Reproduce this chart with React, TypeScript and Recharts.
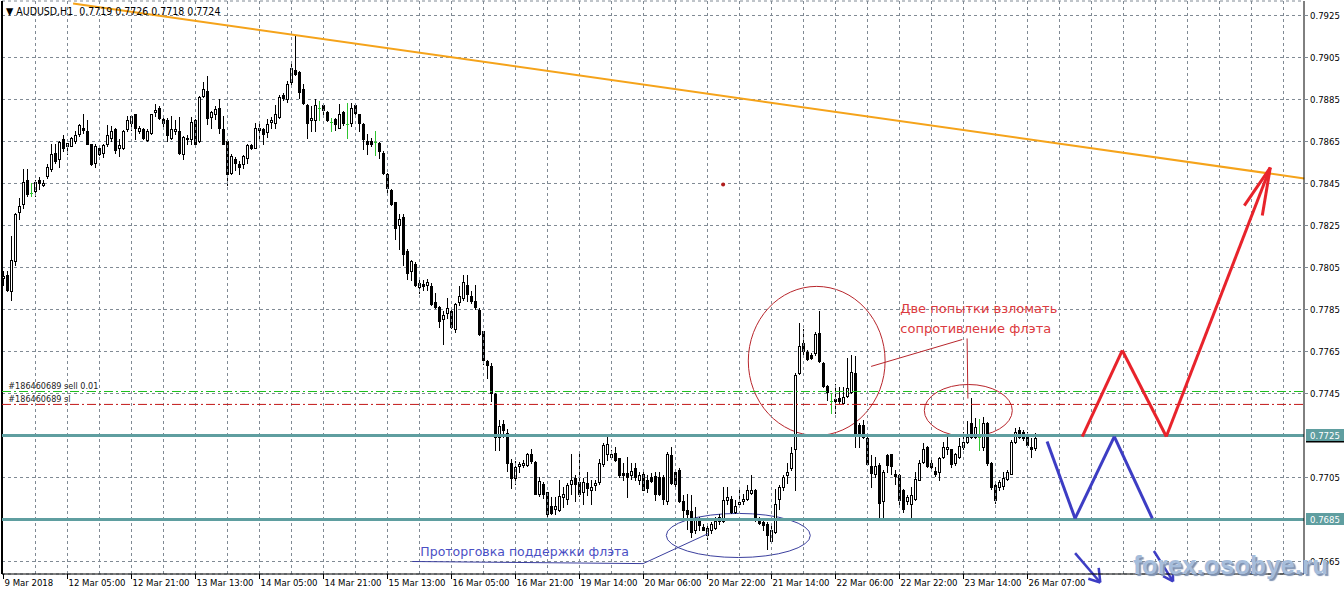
import React from 'react';
import {
  ComposedChart,
  Bar,
  XAxis,
  YAxis,
  CartesianGrid,
  ReferenceLine,
  ReferenceArea,
  ReferenceDot,
} from 'recharts';

// AUDUSD H1, bar by bar (0 = 9 Mar 12:00, 258 = 26 Mar 09:00)
const opens = [
  0.78000, 0.78016, 0.77937, 0.78080, 0.78314, 0.78350, 0.78469, 0.78406, 0.78414, 0.78469,
  0.78441, 0.78485, 0.78517, 0.78597, 0.78568, 0.78660, 0.78628, 0.78628, 0.78652, 0.78684,
  0.78716, 0.78700, 0.78636, 0.78549, 0.78620, 0.78597, 0.78636, 0.78668, 0.78708, 0.78617,
  0.78617, 0.78708, 0.78740, 0.78780, 0.78700, 0.78708, 0.78655, 0.78689, 0.78791, 0.78808,
  0.78756, 0.78751, 0.78668, 0.78700, 0.78700, 0.78589, 0.78660, 0.78660, 0.78751, 0.78652,
  0.78867, 0.78891, 0.78768, 0.78780, 0.78811, 0.78708, 0.78652, 0.78501, 0.78568, 0.78544,
  0.78541, 0.78570, 0.78632, 0.78620, 0.78706, 0.78708, 0.78697, 0.78743, 0.78740, 0.78767,
  0.78872, 0.78851, 0.78931, 0.78989, 0.78981, 0.78899, 0.78824, 0.78751, 0.78751, 0.78811,
  0.78822, 0.78792, 0.78745, 0.78756, 0.78716, 0.78791, 0.78732, 0.78740, 0.78824, 0.78780,
  0.78732, 0.78652, 0.78652, 0.78649, 0.78641, 0.78597, 0.78496, 0.78417, 0.78361, 0.78250,
  0.78290, 0.78128, 0.78032, 0.78069, 0.77956, 0.77973, 0.77969, 0.77961, 0.77886, 0.77861,
  0.77806, 0.77833, 0.77845, 0.77759, 0.77886, 0.77905, 0.77969, 0.77916, 0.77892, 0.77848,
  0.77746, 0.77606, 0.77579, 0.77447, 0.77245, 0.77304, 0.77260, 0.77120, 0.77050, 0.77104,
  0.77109, 0.77109, 0.77161, 0.77125, 0.76970, 0.77021, 0.76981, 0.76912, 0.76901, 0.76893,
  0.76957, 0.76949, 0.77021, 0.77050, 0.77029, 0.76981, 0.77024, 0.76992, 0.77013, 0.77029,
  0.77113, 0.77161, 0.77148, 0.77168, 0.77141, 0.77072, 0.77072, 0.77061, 0.77093, 0.77040,
  0.77069, 0.77040, 0.77053, 0.77056, 0.77053, 0.77053, 0.76938, 0.77156, 0.77077, 0.77088,
  0.76938, 0.76893, 0.76890, 0.76801, 0.76845, 0.76814, 0.76774, 0.76801, 0.76810, 0.76845,
  0.76845, 0.76944, 0.76949, 0.76885, 0.76922, 0.76938, 0.76949, 0.76976, 0.76989, 0.76857,
  0.76837, 0.76829, 0.76746, 0.76790, 0.76949, 0.77005, 0.77061, 0.77093, 0.77184, 0.77547,
  0.77691, 0.77646, 0.77635, 0.77643, 0.77739, 0.77595, 0.77487, 0.77412, 0.77423, 0.77428,
  0.77404, 0.77436, 0.77459, 0.77547, 0.77300, 0.77300, 0.77236, 0.77104, 0.77069, 0.77109,
  0.76938, 0.77156, 0.77161, 0.77069, 0.77061, 0.76992, 0.76938, 0.76925, 0.76949, 0.77040,
  0.77125, 0.77193, 0.77117, 0.77081, 0.77077, 0.77149, 0.77184, 0.77184, 0.77120, 0.77149,
  0.77196, 0.77220, 0.77308, 0.77244, 0.77244, 0.77196, 0.77311, 0.77117, 0.77013, 0.77005,
  0.77008, 0.77045, 0.77069, 0.77220, 0.77276, 0.77268, 0.77244, 0.77196, 0.77190,
];
const highs = [
  0.78035, 0.78032, 0.78199, 0.78310, 0.78382, 0.78517, 0.78517, 0.78454, 0.78469, 0.78482,
  0.78466, 0.78541, 0.78636, 0.78636, 0.78652, 0.78681, 0.78644, 0.78671, 0.78700, 0.78735,
  0.78780, 0.78751, 0.78636, 0.78640, 0.78628, 0.78636, 0.78729, 0.78724, 0.78716, 0.78660,
  0.78703, 0.78772, 0.78776, 0.78783, 0.78724, 0.78716, 0.78708, 0.78783, 0.78830, 0.78819,
  0.78772, 0.78760, 0.78772, 0.78751, 0.78767, 0.78676, 0.78681, 0.78767, 0.78756, 0.78867,
  0.78931, 0.78962, 0.78795, 0.78819, 0.78851, 0.78772, 0.78652, 0.78592, 0.78576, 0.78557,
  0.78584, 0.78636, 0.78636, 0.78740, 0.78748, 0.78716, 0.78756, 0.78767, 0.78824, 0.78872,
  0.78883, 0.78939, 0.79023, 0.79153, 0.78986, 0.78923, 0.78827, 0.78819, 0.78851, 0.78843,
  0.78827, 0.78795, 0.78764, 0.78760, 0.78830, 0.78795, 0.78835, 0.78835, 0.78830, 0.78783,
  0.78740, 0.78684, 0.78668, 0.78700, 0.78647, 0.78605, 0.78501, 0.78422, 0.78361, 0.78303,
  0.78306, 0.78136, 0.78088, 0.78075, 0.78004, 0.77992, 0.77997, 0.77977, 0.77929, 0.77865,
  0.77845, 0.77905, 0.77850, 0.77881, 0.77961, 0.78016, 0.78016, 0.77937, 0.77965, 0.77857,
  0.77749, 0.77611, 0.77595, 0.77452, 0.77325, 0.77325, 0.77280, 0.77140, 0.77130, 0.77125,
  0.77133, 0.77168, 0.77184, 0.77129, 0.77053, 0.77029, 0.76981, 0.76957, 0.76957, 0.77040,
  0.77005, 0.77024, 0.77164, 0.77061, 0.77164, 0.77050, 0.77077, 0.77037, 0.77037, 0.77136,
  0.77212, 0.77244, 0.77180, 0.77193, 0.77141, 0.77117, 0.77149, 0.77117, 0.77120, 0.77077,
  0.77077, 0.77061, 0.77072, 0.77077, 0.77077, 0.77061, 0.77172, 0.77196, 0.77085, 0.77093,
  0.76965, 0.76970, 0.76965, 0.76909, 0.76861, 0.76829, 0.76822, 0.76837, 0.76861, 0.76877,
  0.77005, 0.77005, 0.76960, 0.76941, 0.76989, 0.76970, 0.77013, 0.77061, 0.76997, 0.76861,
  0.76849, 0.76837, 0.76829, 0.76997, 0.77013, 0.77061, 0.77117, 0.77196, 0.77547, 0.77787,
  0.77755, 0.77656, 0.77643, 0.77742, 0.77842, 0.77598, 0.77491, 0.77452, 0.77496, 0.77483,
  0.77483, 0.77619, 0.77635, 0.77627, 0.77308, 0.77324, 0.77244, 0.77156, 0.77149, 0.77117,
  0.77085, 0.77164, 0.77164, 0.77085, 0.77069, 0.76997, 0.76965, 0.77005, 0.77077, 0.77133,
  0.77215, 0.77200, 0.77141, 0.77101, 0.77149, 0.77220, 0.77247, 0.77188, 0.77168, 0.77236,
  0.77268, 0.77321, 0.77428, 0.77332, 0.77327, 0.77340, 0.77316, 0.77125, 0.77021, 0.77037,
  0.77077, 0.77085, 0.77228, 0.77284, 0.77292, 0.77276, 0.77268, 0.77236, 0.77260,
];
const lows = [
  0.77969, 0.77937, 0.77897, 0.78064, 0.78279, 0.78334, 0.78390, 0.78390, 0.78390, 0.78422,
  0.78438, 0.78477, 0.78509, 0.78549, 0.78528, 0.78605, 0.78592, 0.78628, 0.78644, 0.78676,
  0.78692, 0.78636, 0.78538, 0.78530, 0.78586, 0.78578, 0.78628, 0.78652, 0.78597, 0.78581,
  0.78613, 0.78700, 0.78703, 0.78660, 0.78692, 0.78660, 0.78652, 0.78684, 0.78772, 0.78756,
  0.78724, 0.78652, 0.78663, 0.78687, 0.78589, 0.78568, 0.78636, 0.78636, 0.78628, 0.78647,
  0.78862, 0.78732, 0.78716, 0.78756, 0.78692, 0.78636, 0.78442, 0.78496, 0.78512, 0.78496,
  0.78525, 0.78549, 0.78613, 0.78617, 0.78665, 0.78640, 0.78671, 0.78716, 0.78716, 0.78760,
  0.78846, 0.78840, 0.78923, 0.78967, 0.78859, 0.78830, 0.78668, 0.78700, 0.78700, 0.78751,
  0.78772, 0.78748, 0.78700, 0.78703, 0.78713, 0.78729, 0.78668, 0.78724, 0.78776, 0.78700,
  0.78613, 0.78589, 0.78628, 0.78586, 0.78573, 0.78493, 0.78398, 0.78347, 0.78188, 0.78136,
  0.78064, 0.77997, 0.77992, 0.77961, 0.77929, 0.77945, 0.77945, 0.77873, 0.77857, 0.77765,
  0.77686, 0.77810, 0.77762, 0.77743, 0.77870, 0.77897, 0.77889, 0.77881, 0.77850, 0.77727,
  0.77590, 0.77523, 0.77415, 0.77180, 0.77180, 0.77245, 0.77080, 0.77000, 0.77020, 0.77077,
  0.77101, 0.77104, 0.77117, 0.76970, 0.76960, 0.76954, 0.76853, 0.76877, 0.76877, 0.76890,
  0.76909, 0.76925, 0.76973, 0.76938, 0.76960, 0.76925, 0.76965, 0.76925, 0.76989, 0.77021,
  0.77104, 0.77133, 0.77140, 0.77129, 0.77053, 0.77040, 0.76957, 0.77045, 0.77040, 0.77021,
  0.76989, 0.76981, 0.77029, 0.76944, 0.76965, 0.76925, 0.76925, 0.77021, 0.77005, 0.76933,
  0.76853, 0.76806, 0.76769, 0.76785, 0.76801, 0.76798, 0.76758, 0.76785, 0.76806, 0.76829,
  0.76837, 0.76925, 0.76881, 0.76881, 0.76909, 0.76925, 0.76941, 0.76970, 0.76845, 0.76829,
  0.76798, 0.76710, 0.76740, 0.76785, 0.76901, 0.76989, 0.77024, 0.77085, 0.76992, 0.77544,
  0.77635, 0.77608, 0.77614, 0.77635, 0.77598, 0.77483, 0.77420, 0.77359, 0.77359, 0.77404,
  0.77401, 0.77432, 0.77452, 0.77196, 0.77196, 0.77236, 0.77109, 0.77005, 0.77053, 0.76861,
  0.76861, 0.77077, 0.77069, 0.77021, 0.76909, 0.76885, 0.76925, 0.76861, 0.76941, 0.77037,
  0.77117, 0.77101, 0.77093, 0.77056, 0.77040, 0.77141, 0.77164, 0.77101, 0.77109, 0.77141,
  0.77184, 0.77212, 0.77236, 0.77236, 0.77180, 0.77180, 0.77109, 0.76997, 0.76928, 0.76989,
  0.76997, 0.77037, 0.77066, 0.77212, 0.77236, 0.77228, 0.77196, 0.77149, 0.77180,
];
const closes = [
  0.78010, 0.77945, 0.78088, 0.78306, 0.78342, 0.78458, 0.78398, 0.78406, 0.78458, 0.78450,
  0.78450, 0.78530, 0.78589, 0.78557, 0.78649, 0.78617, 0.78641, 0.78668, 0.78679, 0.78727,
  0.78703, 0.78640, 0.78541, 0.78628, 0.78589, 0.78632, 0.78679, 0.78700, 0.78610, 0.78632,
  0.78700, 0.78751, 0.78772, 0.78716, 0.78716, 0.78668, 0.78700, 0.78780, 0.78799, 0.78760,
  0.78740, 0.78681, 0.78708, 0.78708, 0.78597, 0.78671, 0.78668, 0.78745, 0.78636, 0.78862,
  0.78899, 0.78760, 0.78792, 0.78803, 0.78716, 0.78640, 0.78496, 0.78581, 0.78549, 0.78528,
  0.78581, 0.78632, 0.78617, 0.78716, 0.78716, 0.78687, 0.78732, 0.78751, 0.78780, 0.78862,
  0.78859, 0.78926, 0.78999, 0.78970, 0.78888, 0.78832, 0.78740, 0.78760, 0.78824, 0.78811,
  0.78799, 0.78751, 0.78745, 0.78732, 0.78783, 0.78740, 0.78732, 0.78808, 0.78787, 0.78740,
  0.78660, 0.78640, 0.78640, 0.78649, 0.78605, 0.78501, 0.78427, 0.78350, 0.78239, 0.78279,
  0.78115, 0.78024, 0.78080, 0.77969, 0.77977, 0.77961, 0.77981, 0.77876, 0.77861, 0.77797,
  0.77825, 0.77857, 0.77765, 0.77876, 0.77916, 0.77980, 0.77924, 0.77892, 0.77861, 0.77733,
  0.77611, 0.77587, 0.77452, 0.77245, 0.77296, 0.77277, 0.77120, 0.77050, 0.77100, 0.77113,
  0.77120, 0.77161, 0.77129, 0.76973, 0.77032, 0.76970, 0.76877, 0.76881, 0.76912, 0.76960,
  0.76973, 0.77016, 0.77040, 0.77018, 0.76970, 0.77029, 0.77002, 0.77005, 0.77024, 0.77120,
  0.77204, 0.77209, 0.77161, 0.77133, 0.77061, 0.77061, 0.77053, 0.77080, 0.77053, 0.77061,
  0.76992, 0.77002, 0.77034, 0.76970, 0.76970, 0.76949, 0.77164, 0.77024, 0.77021, 0.76938,
  0.76893, 0.76877, 0.76790, 0.76849, 0.76822, 0.76801, 0.76810, 0.76829, 0.76845, 0.76861,
  0.76941, 0.76957, 0.76885, 0.76912, 0.76933, 0.76949, 0.76992, 0.76992, 0.76853, 0.76833,
  0.76822, 0.76774, 0.76798, 0.76925, 0.77005, 0.77053, 0.77077, 0.77168, 0.77539, 0.77675,
  0.77651, 0.77614, 0.77619, 0.77731, 0.77603, 0.77487, 0.77459, 0.77412, 0.77412, 0.77412,
  0.77432, 0.77475, 0.77550, 0.77257, 0.77257, 0.77244, 0.77113, 0.77072, 0.77104, 0.76928,
  0.77077, 0.77109, 0.77104, 0.77056, 0.76944, 0.76901, 0.76957, 0.76965, 0.77045, 0.77120,
  0.77184, 0.77104, 0.77101, 0.77069, 0.77141, 0.77196, 0.77196, 0.77113, 0.77161, 0.77200,
  0.77220, 0.77244, 0.77244, 0.77289, 0.77244, 0.77308, 0.77117, 0.77005, 0.76941, 0.77029,
  0.77050, 0.77077, 0.77220, 0.77268, 0.77244, 0.77236, 0.77204, 0.77184, 0.77240,
];

const timeTicks = [0, 16, 32, 48, 64, 80, 96, 112, 128, 144, 160, 176, 192, 208, 224, 240, 256];
const timeLabels = [
  '9 Mar 2018', '12 Mar 05:00', '12 Mar 21:00', '13 Mar 13:00', '14 Mar 05:00', '14 Mar 21:00',
  '15 Mar 13:00', '16 Mar 05:00', '16 Mar 21:00', '19 Mar 14:00', '20 Mar 06:00', '20 Mar 22:00',
  '21 Mar 14:00', '22 Mar 06:00', '22 Mar 22:00', '23 Mar 14:00', '26 Mar 07:00',
];
const priceTicks = [
  0.7665, 0.7685, 0.7705, 0.7725, 0.7745, 0.7765, 0.7785, 0.7805, 0.7825, 0.7845, 0.7865,
  0.7885, 0.7905, 0.7925,
];
const gridBars = [
  8, 16, 24, 32, 40, 48, 56, 64, 72, 80, 88, 96, 104, 112, 120, 128, 136, 144, 152, 160,
  168, 176, 184, 192, 200, 208, 216, 224, 232, 240, 248, 256, 264, 272, 280, 288, 296, 304,
  312, 320,
];

// drawn objects, in bar index / price
const X_MIN = -0.375;
const X_MAX = 325.125;
const flatLevels = [0.7725, 0.7685];
const orderLevels = [
  { price: 0.774595, color: '#1fbf1f' },
  { price: 0.77398, color: '#c21818' },
];
const trendLine = [[17.4, 0.79307], [325.2, 0.78474]];
const redPath = [[269.7, 0.77245], [279.7, 0.77655], [290.7, 0.77245], [316.7, 0.78526]];
const redHead = [[[316.7, 0.78526], [310.2, 0.78345]], [[316.7, 0.78526], [314.7, 0.78298]]];
const bluePath = [[260.9, 0.77221], [267.9, 0.76855], [277.7, 0.77245], [287.2, 0.76855]];
const blueArrows = [
  [[267.9, 0.76690], [274.2, 0.76550]],
  [[274.2, 0.76550], [271.2, 0.76568]],
  [[274.2, 0.76550], [273.8, 0.76620]],
  [[287.6, 0.76700], [292.4, 0.76555]],
  [[292.4, 0.76555], [289.9, 0.76580]],
  [[292.4, 0.76555], [292.3, 0.76625]],
];
const redNote = [[216.9, 0.77579], [239.7, 0.77707]];
const redPin = [[240.9, 0.77712], [241.1, 0.77426]];
const blueNote = [[102.2, 0.76650], [159.9, 0.76640], [176.2, 0.76783]];
const bigCircle = { x1: 186.2, x2: 220.4, y1: 0.77960, y2: 0.77250 };
const smallCircle = { x1: 230.2, x2: 252.2, y1: 0.77493, y2: 0.77245 };
const blueCircle = { x1: 165.7, x2: 201.7, y1: 0.76879, y2: 0.76669 };
const notes = [
  { x: 224.2, y: 0.77855, text: 'Две попытки взломать', color: '#dc3a40', size: 13 },
  { x: 224.2, y: 0.77764, text: 'сопротивление флэта', color: '#dc3a40', size: 13 },
  { x: 104.2, y: 0.76702, text: 'Проторговка поддержки флэта', color: '#4b4fc4', size: 12.5 },
];
const orderNotes = [
  { x: 1.2, y: 0.77486, text: '#186460689 sell 0.01' },
  { x: 1.2, y: 0.77424, text: '#186460689 sl' },
];

const candles = opens.map((o, i) => ({
  i,
  open: o,
  high: highs[i],
  low: lows[i],
  close: closes[i],
  range: [lows[i], highs[i]],
}));

const AXIS_FONT = "'DejaVu Sans Condensed', 'DejaVu Sans', sans-serif";
const DOJI = '#2fc42f';
const TEAL = '#5f9ea0';
const GRID = '#808a94';

const Candle = (props: any) => {
  const { x, y, width, height, payload } = props;
  if (!payload) return null;
  const { open, close, high, low } = payload;
  const top = Math.min(y, y + height);
  const span = Math.abs(height);
  const k = high > low ? span / (high - low) : 0;
  const py = (p: number) => Math.round(top + (high - p) * k);
  const cx = Math.floor(x + width / 2);
  const hi = py(high);
  const lo = py(low);
  const bTop = py(Math.max(open, close));
  const bBot = py(Math.min(open, close));
  if (open === close) {
    return (
      <g>
        <rect x={cx} y={hi} width={1} height={lo - hi + 1} fill={DOJI} />
        <rect x={cx - 1} y={bTop} width={3} height={1} fill={DOJI} />
      </g>
    );
  }
  if (close > open) {
    return (
      <g>
        <rect x={cx} y={hi} width={1} height={lo - hi + 1} fill="#000" />
        <rect x={cx - 0.5} y={bTop + 0.5} width={2} height={Math.max(bBot - bTop, 1)} fill="#fff" stroke="#000" strokeWidth={1} />
      </g>
    );
  }
  return (
    <g>
      <rect x={cx} y={hi} width={1} height={lo - hi + 1} fill="#000" />
      <rect x={cx - 1} y={bTop} width={3} height={bBot - bTop + 1} fill="#000" />
    </g>
  );
};

const TimeTick = (props: any) => {
  const { x, y, payload } = props;
  const idx = timeTicks.indexOf(payload.value);
  const X = Math.floor(x) + 0.5;
  return (
    <g>
      <line x1={X} x2={X} y1={y} y2={y + 5} stroke="#000" strokeWidth={1} />
      <text x={X + 1} y={y + 12} fontSize={9.5} fontFamily={AXIS_FONT} fill="#000">
        {timeLabels[idx]}
      </text>
    </g>
  );
};

const PriceTick = (props: any) => {
  const { x, y, payload } = props;
  const v = payload.value;
  const label = v.toFixed(4);
  const Y = Math.round(y - 0.5) + 0.5;
  if (flatLevels.includes(v)) {
    return (
      <g>
        <rect x={x + 2} y={Y - 6.5} width={38} height={12} fill={TEAL} />
        {v === flatLevels[0] && <rect x={x + 2} y={Y + 5.5} width={38} height={1.5} fill="#000" />}
        <text x={x + 6} y={Y + 3.5} fontSize={9.5} fontFamily={AXIS_FONT} fill="#fff">{label}</text>
      </g>
    );
  }
  return (
    <g>
      <line x1={x} x2={x + 4} y1={Y} y2={Y} stroke={GRID} strokeWidth={1} />
      <text x={x + 6} y={Y + 3.5} fontSize={9.5} fontFamily={AXIS_FONT} fill="#000">{label}</text>
    </g>
  );
};

const seg = (a: number[], b: number[]) => [{ x: a[0], y: a[1] }, { x: b[0], y: b[1] }];
const pathSegs = (pts: number[][]) => pts.slice(1).map((p, k) => [pts[k], p]);

const ellipseShape = (color: string) => (p: any) => (
  <ellipse
    cx={p.x + p.width / 2}
    cy={p.y + p.height / 2}
    rx={Math.abs(p.width) / 2}
    ry={Math.abs(p.height) / 2}
    fill="none"
    stroke={color}
    strokeWidth={1}
  />
);

export default function App() {
  return (
    <div style={{ position: 'absolute', left: 0, top: 0, width: 1344, height: 593, background: '#fff' }}>
      <ComposedChart
        width={1344}
        height={593}
        data={candles}
        margin={{ top: 1, right: 0, left: 2, bottom: 0 }}
      >
        <CartesianGrid horizontal vertical={false} stroke={GRID} strokeDasharray="3 3" />
        {gridBars.map((b) => (
          <ReferenceLine key={'g' + b} x={b} stroke={GRID} strokeDasharray="3 3" />
        ))}
        <XAxis
          type="number"
          dataKey="i"
          domain={[X_MIN, X_MAX]}
          allowDataOverflow
          ticks={timeTicks}
          interval={0}
          height={19}
          tickSize={0}
          tickMargin={0}
          tickLine={false}
          axisLine={{ stroke: '#000' }}
          tick={<TimeTick />}
        />
        <YAxis
          orientation="right"
          type="number"
          domain={[0.765905, 0.79319]}
          allowDataOverflow
          ticks={priceTicks}
          interval={0}
          width={40}
          tickSize={0}
          tickMargin={0}
          tickLine={false}
          axisLine={{ stroke: '#000' }}
          tick={<PriceTick />}
        />
        <ReferenceLine x={X_MIN} stroke="#000" strokeWidth={2} />
        <Bar dataKey="range" barSize={3} shape={<Candle />} isAnimationActive={false} />

        {flatLevels.map((v) => (
          <ReferenceLine key={'f' + v} y={v} stroke={TEAL} strokeWidth={3} />
        ))}
        {orderLevels.map((o) => (
          <ReferenceLine
            key={'o' + o.price}
            segment={seg([X_MIN, o.price], [X_MAX, o.price])}
            stroke={o.color}
            strokeWidth={1}
            strokeDasharray="9 3 2 3"
            ifOverflow="visible"
          />
        ))}
        <ReferenceLine segment={seg(trendLine[0], trendLine[1])} stroke="#f5a31a" strokeWidth={2} ifOverflow="visible" />

        <ReferenceArea {...bigCircle} ifOverflow="visible" shape={ellipseShape('#b8262c')} />
        <ReferenceArea {...smallCircle} ifOverflow="visible" shape={ellipseShape('#b8262c')} />
        <ReferenceArea {...blueCircle} ifOverflow="visible" shape={ellipseShape('#3b3f9e')} />

        <ReferenceLine segment={seg(redNote[0], redNote[1])} stroke="#b8262c" ifOverflow="visible" />
        <ReferenceLine segment={seg(redPin[0], redPin[1])} stroke="#b8262c" ifOverflow="visible" />
        {pathSegs(blueNote).map((s, k) => (
          <ReferenceLine key={'bn' + k} segment={seg(s[0], s[1])} stroke="#3b3f9e" ifOverflow="visible" />
        ))}

        {pathSegs(redPath).map((s, k) => (
          <ReferenceLine key={'rp' + k} segment={seg(s[0], s[1])} stroke="#e8232b" strokeWidth={3} ifOverflow="visible" />
        ))}
        {redHead.map((s, k) => (
          <ReferenceLine key={'rh' + k} segment={seg(s[0], s[1])} stroke="#e8232b" strokeWidth={3} ifOverflow="visible" />
        ))}
        {pathSegs(bluePath).map((s, k) => (
          <ReferenceLine key={'bp' + k} segment={seg(s[0], s[1])} stroke="#3d3dc4" strokeWidth={3} ifOverflow="visible" />
        ))}
        {blueArrows.map((s, k) => (
          <ReferenceLine key={'ba' + k} segment={seg(s[0], s[1])} stroke="#3d3dc4" strokeWidth={2.5} ifOverflow="visible" />
        ))}

        <ReferenceDot x={179.9} y={0.78445} r={2} fill="#b01c1c" stroke="none" ifOverflow="visible" />

        {notes.map((n) => (
          <ReferenceDot
            key={n.text}
            x={n.x}
            y={n.y}
            r={0}
            ifOverflow="visible"
            shape={(p: any) => (
              <text x={p.cx} y={p.cy + 5} fontSize={n.size} fontFamily="'DejaVu Sans', sans-serif" fill={n.color}>
                {n.text}
              </text>
            )}
          />
        ))}
        {orderNotes.map((n) => (
          <ReferenceDot
            key={n.text}
            x={n.x}
            y={n.y}
            r={0}
            ifOverflow="visible"
            shape={(p: any) => (
              <text x={p.cx} y={p.cy + 3.5} fontSize={9} fontFamily={AXIS_FONT} fill="#222">
                {n.text}
              </text>
            )}
          />
        ))}
      </ComposedChart>

      <div
        style={{
          position: 'absolute',
          left: 6,
          top: 5,
          fontFamily: AXIS_FONT,
          fontSize: 10.5,
          color: '#000',
          whiteSpace: 'pre',
          lineHeight: '12px',
        }}
      >
        {'▼ AUDUSD,H1  0.7719 0.7726 0.7718 0.7724'}
      </div>
      <div
        style={{
          position: 'absolute',
          left: 1133,
          top: 550,
          fontFamily: "'Liberation Sans', Arial, sans-serif",
          fontWeight: 'bold',
          fontSize: 26,
          lineHeight: '30px',
          color: '#a6bddb',
          textShadow: '2px 2px 1px #7f93b3',
        }}
      >
        forex.osobye.ru
      </div>
    </div>
  );
}
